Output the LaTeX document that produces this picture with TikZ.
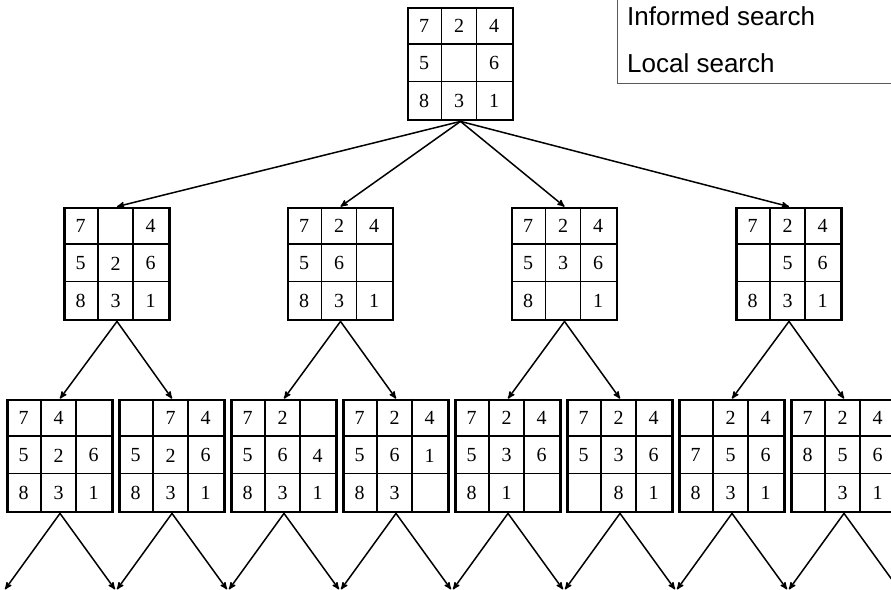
\documentclass[tikz,border=0pt]{standalone}
\usepackage{fontspec}
\setmainfont{Liberation Serif}
\newfontfamily\legendfont{Liberation Sans}
\usetikzlibrary{arrows,calc}

% one 8-puzzle state: name, centre, nine tiles row by row
\newcommand{\puzzle}[3]{%
  \node[board] (#1) at (#2) {};
  \draw[grid] ($(#1.north west)+(35,0)$) -- ($(#1.south west)+(35,0)$)
              ($(#1.north west)+(70,0)$) -- ($(#1.south west)+(70,0)$)
              ($(#1.north west)+(0,37.33)$) -- ($(#1.north east)+(0,37.33)$)
              ($(#1.north west)+(0,74.67)$) -- ($(#1.north east)+(0,74.67)$);
  \foreach \v [count=\k from 0] in {#3} {
    \pgfmathtruncatemacro{\tcol}{mod(\k,3)}
    \pgfmathtruncatemacro{\trow}{div(\k,3)}
    \node[tile] at ($(#1.north west)+(\tcol*35+17.5,\trow*37.33+19.5)$) {\v};
  }%
}

\begin{document}
\begin{tikzpicture}[x=1pt,y=-1pt,>=stealth',
    board/.style={draw,line width=2.8pt,minimum width=105pt,minimum height=112pt,inner sep=0pt},
    grid/.style={line width=1.3pt},
    tile/.style={font=\fontsize{20}{24}\selectfont,inner sep=0pt},
    move/.style={->,line width=1.5pt},
    legendtext/.style={font=\legendfont\fontsize{26}{30}\selectfont,inner sep=0pt,anchor=base west}]

  \useasboundingbox (0,0) rectangle (891,589);
  \clip (0,0) rectangle (891,589);

  % legend
  \draw[black!65,line width=0.9pt] (617,-5) rectangle (900,83);
  \node[legendtext] (informed) at (627,25) {Informed search};
  \node[legendtext] (local)    at (627,72) {Local search};

  % root
  \puzzle{root}{460.5,64}{7,2,4,5,{},6,8,3,1}

  % first moves
  \puzzle{b1}{117,264}{7,{},4,5,2,6,8,3,1}
  \puzzle{b2}{340.5,264}{7,2,4,5,6,{},8,3,1}
  \puzzle{b3}{564.5,264}{7,2,4,5,3,6,8,{},1}
  \puzzle{b4}{789,264}{7,2,4,{},5,6,8,3,1}

  % second moves
  \puzzle{c1}{60,456}{7,4,{},5,2,6,8,3,1}
  \puzzle{c2}{172,456}{{},7,4,5,2,6,8,3,1}
  \puzzle{c3}{284,456}{7,2,{},5,6,4,8,3,1}
  \puzzle{c4}{396,456}{7,2,4,5,6,1,8,3,{}}
  \puzzle{c5}{508,456}{7,2,4,5,3,6,8,1,{}}
  \puzzle{c6}{620,456}{7,2,4,5,3,6,{},8,1}
  \puzzle{c7}{732,456}{{},2,4,7,5,6,8,3,1}
  \puzzle{c8}{844,456}{7,2,4,8,5,6,{},3,1}

  % open ends below the last row
  \coordinate (d1)  at ($(c1.south)+(-55,76)$);
  \coordinate (d2)  at ($(c1.south)+(55,76)$);
  \coordinate (d3)  at ($(c2.south)+(-55,76)$);
  \coordinate (d4)  at ($(c2.south)+(55,76)$);
  \coordinate (d5)  at ($(c3.south)+(-55,76)$);
  \coordinate (d6)  at ($(c3.south)+(55,76)$);
  \coordinate (d7)  at ($(c4.south)+(-55,76)$);
  \coordinate (d8)  at ($(c4.south)+(55,76)$);
  \coordinate (d9)  at ($(c5.south)+(-55,76)$);
  \coordinate (d10) at ($(c5.south)+(55,76)$);
  \coordinate (d11) at ($(c6.south)+(-55,76)$);
  \coordinate (d12) at ($(c6.south)+(55,76)$);
  \coordinate (d13) at ($(c7.south)+(-55,76)$);
  \coordinate (d14) at ($(c7.south)+(55,76)$);
  \coordinate (d15) at ($(c8.south)+(-55,76)$);
  \coordinate (d16) at ($(c8.south)+(55,76)$);

  \path[move] (root.south) edge (b1.north) edge (b2.north)
                           edge (b3.north) edge (b4.north)
        (b1.south) edge (c1.north) edge (c2.north)
        (b2.south) edge (c3.north) edge (c4.north)
        (b3.south) edge (c5.north) edge (c6.north)
        (b4.south) edge (c7.north) edge (c8.north)
        (c1.south) edge (d1)  edge (d2)
        (c2.south) edge (d3)  edge (d4)
        (c3.south) edge (d5)  edge (d6)
        (c4.south) edge (d7)  edge (d8)
        (c5.south) edge (d9)  edge (d10)
        (c6.south) edge (d11) edge (d12)
        (c7.south) edge (d13) edge (d14)
        (c8.south) edge (d15) edge (d16);
\end{tikzpicture}
\end{document}
